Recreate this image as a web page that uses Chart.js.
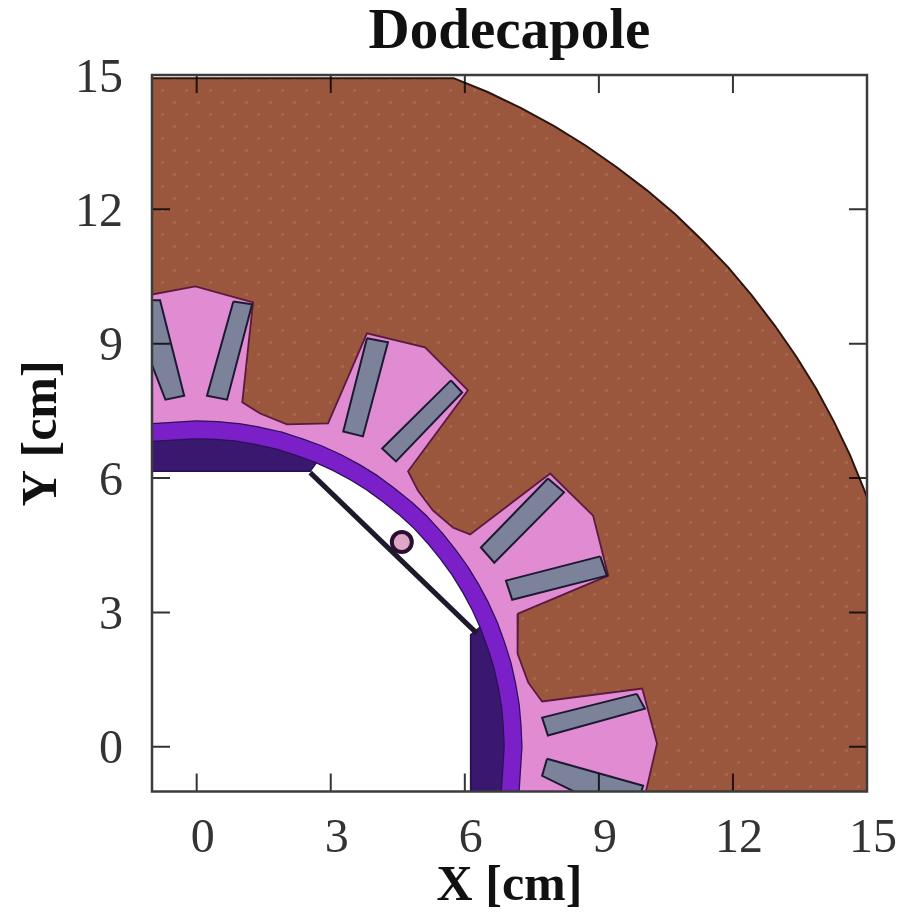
<!DOCTYPE html>
<html>
<head>
<meta charset="utf-8">
<title>Dodecapole</title>
<script src="https://cdn.jsdelivr.net/npm/chart.js@4"></script>
<style>
  html, body { margin: 0; padding: 0; background: #fff; }
  canvas { display: block; filter: blur(0.7px); }
</style>
</head>
<body>
<canvas id="magnet" width="917" height="912"></canvas>
<script>
const tickValues = [0, 3, 6, 9, 12, 15]

// all shapes in cm as [x, y]
const outerArc = [[-1.1, 14.93], [5.75, 14.93], [6.51, 14.62], [7.26, 14.26], [8, 13.86], [8.71, 13.42], [9.4, 12.94], [10.07, 12.43], [10.71, 11.89], [11.31, 11.31], [11.89, 10.71], [12.43, 10.07], [12.94, 9.4], [13.42, 8.71], [13.86, 8], [14.26, 7.26], [14.62, 6.51], [14.94, 5.73], [15, 5.57], [15, -1.1]]
const ringLine = [[7.01, -1.1], [7.08, 0], [7.06, 0.46], [7.02, 0.92], [6.94, 1.38], [6.84, 1.83], [6.7, 2.27], [6.54, 2.71], [6.35, 3.13], [6.13, 3.54], [5.89, 3.93], [5.62, 4.3], [5.33, 4.66], [5.01, 5.01], [4.66, 5.33], [4.3, 5.62], [3.93, 5.89], [3.54, 6.13], [3.13, 6.35], [2.71, 6.54], [2.27, 6.7], [1.83, 6.84], [1.38, 6.94], [0.92, 7.02], [0.46, 7.06], [0, 7.08], [-1.1, 7.01]]
const yokeEdge = [[-1.1, 10.08], [-0.03, 10.28], [1.26, 9.92], [1.02, 7.69], [1.42, 7.44], [2.02, 7.2], [2.94, 7.22], [3.81, 9.23], [5.11, 8.92], [6.07, 7.96], [4.73, 6.15], [4.95, 5.72], [5.29, 5.27], [5.74, 4.89], [6.12, 4.74], [7.91, 6.1], [8.87, 5.16], [9.21, 3.82], [7.19, 2.97], [7.17, 2.52], [7.19, 2.08], [7.42, 1.43], [7.73, 1.01], [9.97, 1.3], [10.3, 0.07], [10.03, -1.1]]
const collarTop = [[-1.1, 6.15], [2.54, 6.15], [2.72, 6.4], [2, 6.66], [1, 6.88], [0, 6.95], [-1.1, 6.86]]
const collarRight = [[6.13, -1.1], [6.13, 2.5], [6.4, 2.72], [6.66, 2], [6.88, 1], [6.95, 0], [6.86, -1.1]]
const diagonal = [[2.54, 6.12], [6.27, 2.53]]
const probe = [[4.59, 4.57]]
const coils = [
  [[-1.1, 9.97], [-0.82, 9.97], [-0.28, 7.84], [-0.7, 7.75], [-1.1, 8.78]],
  [[0.82, 9.94], [1.24, 9.88], [0.68, 7.75], [0.23, 7.84]],
  [[3.81, 9.12], [4.28, 9.03], [3.72, 6.93], [3.28, 7.04]],
  [[5.69, 8.18], [5.94, 7.91], [4.46, 6.37], [4.15, 6.66]],
  [[7.86, 5.99], [8.22, 5.68], [6.66, 4.11], [6.36, 4.45]],
  [[9.03, 4.25], [9.18, 3.82], [7.06, 3.28], [6.92, 3.71]],
  [[9.85, 1.18], [10.03, 0.85], [7.86, 0.25], [7.73, 0.65]],
  [[7.84, -0.27], [9.99, -0.87], [9.92, -1.1], [8.65, -1.1], [7.73, -0.65]]
]

function toPoints(list) {
  return list.map(p => ({x: p[0], y: p[1]}))
}

function closed(list) {
  return toPoints(list.concat([list[0]]))
}

// faint dot texture of the iron
function ironPattern() {
  const c = document.createElement('canvas')
  c.width = 24
  c.height = 24
  const g = c.getContext('2d')
  g.fillStyle = '#9a573d'
  g.fillRect(0, 0, 24, 24)
  g.fillStyle = 'rgba(255, 205, 170, 0.13)'
  g.fillRect(5, 5, 3, 3)
  g.fillRect(17, 17, 3, 3)
  return g.createPattern(c, 'repeat')
}

function shape(list, fillColor, edgeColor, edgeWidth) {
  return {
    data: closed(list),
    showLine: true,
    fill: 'shape',
    backgroundColor: fillColor,
    borderColor: edgeColor,
    borderWidth: edgeWidth,
    pointRadius: 0,
    clip: 0
  }
}

function stroke(list, color, width) {
  return {
    data: toPoints(list),
    showLine: true,
    fill: false,
    borderColor: color,
    borderWidth: width,
    borderJoinStyle: 'round',
    pointRadius: 0,
    clip: 0
  }
}

// listed from the bottom layer up
const layers = [
  shape(outerArc.concat(ringLine), ironPattern(), '#2a1510', 2),
  shape(yokeEdge.concat(ringLine), '#e18bd3', '#5a1a3c', 1.8)
]
coils.forEach(c => layers.push(shape(c, '#7c8299', '#1b1a30', 2)))
layers.push(shape(collarTop, '#3b1870', '#22104a', 1.5))
layers.push(shape(collarRight, '#3b1870', '#22104a', 1.5))
layers.push(stroke(ringLine, '#2c1058', 19))
layers.push(stroke(ringLine, '#7b1fc9', 16.5))
layers.push(stroke(diagonal, '#1e1a2c', 5))
layers.push({
  data: toPoints(probe),
  pointRadius: 10,
  pointBackgroundColor: '#e0a6c8',
  pointBorderColor: '#2a1030',
  pointBorderWidth: 4
})
layers.forEach((l, i) => { l.order = layers.length - i })

// ticks point inward on all four sides, frame on top
const frameAndTicks = {
  id: 'frameAndTicks',
  afterDatasetsDraw(chart) {
    const {ctx, chartArea: a, scales} = chart
    ctx.save()
    ctx.globalCompositeOperation = 'multiply'
    ctx.strokeStyle = '#333'
    ctx.lineWidth = 2
    ctx.beginPath()
    tickValues.forEach(v => {
      const px = scales.x.getPixelForValue(v)
      const py = scales.y.getPixelForValue(v)
      ctx.moveTo(px, a.top)
      ctx.lineTo(px, a.top + 18)
      ctx.moveTo(px, a.bottom)
      ctx.lineTo(px, a.bottom - 18)
      ctx.moveTo(a.left, py)
      ctx.lineTo(a.left + 18, py)
      ctx.moveTo(a.right, py)
      ctx.lineTo(a.right - 18, py)
    })
    ctx.stroke()
    ctx.restore()
    ctx.save()
    ctx.strokeStyle = '#3c3c3c'
    ctx.lineWidth = 2.5
    ctx.strokeRect(a.left, a.top, a.right - a.left, a.bottom - a.top)
    ctx.restore()
  }
}

const serif = '"Liberation Serif", serif'

new Chart(document.getElementById('magnet'), {
  type: 'scatter',
  data: {datasets: layers},
  plugins: [frameAndTicks],
  options: {
    responsive: false,
    animation: false,
    layout: {padding: {right: 50}},
    plugins: {
      legend: {display: false},
      tooltip: {enabled: false}
    },
    scales: {
      x: {
        type: 'linear',
        min: -1,
        max: 15,
        afterBuildTicks(scale) { scale.ticks = tickValues.map(value => ({value})) },
        afterFit(scale) { scale.height = 120.5 },
        grid: {display: false},
        border: {display: false},
        ticks: {color: '#333', font: {family: serif, size: 48}, padding: 11, labelOffset: 6, maxRotation: 0},
        title: {display: true, text: 'X [cm]', color: '#111', font: {family: serif, size: 50, weight: 'bold', lineHeight: 1}, padding: 0}
      },
      // the title sits over the plot, not over the page, so it hangs on a blank top axis
      x2: {
        type: 'linear',
        position: 'top',
        min: -1,
        max: 15,
        afterFit(scale) { scale.height = 75 },
        grid: {display: false},
        border: {display: false},
        ticks: {display: false},
        title: {display: true, text: 'Dodecapole', color: '#111', font: {family: serif, size: 57, weight: 'bold', lineHeight: 1}, padding: {top: 5, bottom: 0}}
      },
      y: {
        type: 'linear',
        min: -1,
        max: 15,
        afterBuildTicks(scale) { scale.ticks = tickValues.map(value => ({value})) },
        afterFit(scale) { scale.width = 152 },
        grid: {display: false},
        border: {display: false},
        ticks: {color: '#333', font: {family: serif, size: 48}, padding: 21, labelOffset: 4},
        title: {display: true, text: 'Y [cm]', color: '#111', font: {family: serif, size: 50, weight: 'bold'}, padding: {top: 13, bottom: 0}}
      }
    }
  }
})
</script>
</body>
</html>
